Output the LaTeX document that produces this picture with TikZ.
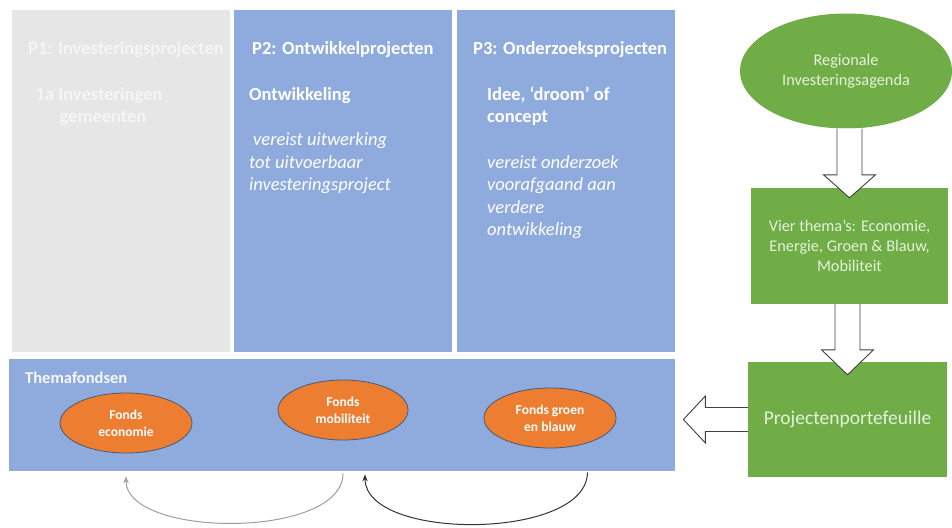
\documentclass[tikz,border=0pt]{standalone}
\usepackage{fontspec}
\setmainfont{Carlito}
\usetikzlibrary{shapes.geometric,calc,arrows.meta}
\definecolor{pblue}{HTML}{8FAADC}
\definecolor{pgray}{HTML}{E7E6E6}
\definecolor{pgreen}{HTML}{70AD47}
\definecolor{porange}{HTML}{ED7D31}
\definecolor{ptextgray}{HTML}{F5F5F5}
\definecolor{pgreentext}{HTML}{E4F1DB}
\definecolor{pedge}{HTML}{4A5A70}
\definecolor{parrow}{HTML}{404040}
\begin{document}
\begin{tikzpicture}[x=1pt,y=-1pt,
  colbox/.style={inner sep=0pt, anchor=north west, draw=none},
  ttl/.style={anchor=base west, inner sep=0pt, text=white, font=\fontsize{18.5}{22.5}\selectfont\bfseries},
  bodyb/.style={anchor=base west, inner sep=0pt, text=white, font=\fontsize{18.5}{22.5}\selectfont\bfseries},
  bodyi/.style={anchor=base west, inner sep=0pt, text=white, font=\fontsize{18.5}{22.5}\selectfont\itshape},
  greenbox/.style={fill=pgreen, draw=none, inner sep=0pt, text=pgreentext, align=center},
  fonds/.style={ellipse, fill=porange, draw=pedge, line width=0.8pt, inner sep=0pt, text=white, align=center, font=\fontsize{13.5}{17}\selectfont\bfseries},
  barrow/.style={fill=white, draw=parrow, line width=0.9pt, line join=miter},
  carrow/.style={line width=1pt, -{Stealth[length=7pt,width=5.5pt]}}
]
\useasboundingbox (0,0) rectangle (952,527);
\fill[white] (0,0) rectangle (952,527);

% columns
\node[colbox, fill=pgray, minimum width=218pt, minimum height=342pt] (p1) at (12,10) {};
\node[colbox, fill=pblue, minimum width=218pt, minimum height=342pt] (p2) at (234,10) {};
\node[colbox, fill=pblue, minimum width=218pt, minimum height=342pt] (p3) at (457,10) {};
\node[colbox, fill=pblue, minimum width=666pt, minimum height=112pt] (thema) at (9,359) {};

% P1 texts
\node[ttl, text=ptextgray] (p1t) at (28,54.5) {P1: Investeringsprojecten};
\node[anchor=base, inner sep=0pt, text=ptextgray, font=\fontsize{18.5}{22.5}\selectfont\bfseries] (p1a) at (99,100) {1a Investeringen};
\node[anchor=base, inner sep=0pt, text=ptextgray, font=\fontsize{18.5}{22.5}\selectfont\bfseries] (p1b) at (103,122.7) {gemeenten};

% P2 texts
\node[ttl] (p2t) at (252,54.5) {P2: Ontwikkelprojecten};
\node[bodyb] (p2a) at (249,100) {Ontwikkeling};
\node[bodyi] (p2b) at (253,145.7) {vereist uitwerking};
\node[bodyi] (p2c) at (249,168.2) {tot uitvoerbaar};
\node[bodyi] (p2d) at (249,190.7) {investeringsproject};

% P3 texts
\node[ttl] (p3t) at (473,54.5) {P3: Onderzoeksprojecten};
\node[bodyb] (p3a) at (487,100) {Idee, ‘droom’ of};
\node[bodyb] (p3b) at (487,122.7) {concept};
\node[bodyi] (p3c) at (487,168.2) {vereist onderzoek};
\node[bodyi] (p3d) at (487,190.7) {voorafgaand aan};
\node[bodyi] (p3e) at (487,213.2) {verdere};
\node[bodyi] (p3f) at (487,235.7) {ontwikkeling};

% Themafondsen
\node[anchor=base west, inner sep=0pt, text=white!92!pblue, font=\fontsize{16.5}{20}\selectfont\bfseries] (tft) at (25,383.5) {Themafondsen};
\node[fonds, minimum width=132pt, minimum height=60pt] (eco) at (126,423) {Fonds\\economie};
\node[fonds, minimum width=130pt, minimum height=60pt] (mob) at (343,410) {Fonds\\mobiliteit};
\node[fonds, minimum width=132pt, minimum height=60pt] (grn) at (550,418) {Fonds groen\\en blauw};

% right side
\node[greenbox, ellipse, minimum width=212pt, minimum height=115pt, font=\fontsize{16.3}{20}\selectfont] (reg) at (846,71) {Regionale\\Investeringsagenda};
\node[greenbox, minimum width=197pt, minimum height=116pt, font=\fontsize{16.3}{20}\selectfont] (vier) at (849.5,246) {Vier thema’s: Economie,\\Energie, Groen \& Blauw,\\Mobiliteit};
\node[greenbox, minimum width=199pt, minimum height=115pt, font=\fontsize{19.5}{23}\selectfont] (proj) at (847.5,419.5) {Projectenportefeuille};

% block arrows
\filldraw[barrow] let \p1=(reg.south), \p2=($(vier.north)+(0,10)$) in
  (\x2-12.5pt,\y1) -- (\x2-12.5pt,\y2+23pt) -- (\x2-26pt,\y2+23pt) -- (\x2,\y2)
  -- (\x2+26pt,\y2+23pt) -- (\x2+12.5pt,\y2+23pt) -- (\x2+12.5pt,\y1);
\filldraw[barrow] let \p1=(vier.south), \p2=($(proj.north)+(0,13)$) in
  (\x2-12.5pt,\y1) -- (\x2-12.5pt,\y2+25pt) -- (\x2-26pt,\y2+25pt) -- (\x2,\y2)
  -- (\x2+26pt,\y2+25pt) -- (\x2+12.5pt,\y2+25pt) -- (\x2+12.5pt,\y1);
\filldraw[barrow] let \p1=(proj.west), \p2=(thema.east) in
  (\x1,\y1+12pt) -- (\x2+30pt,\y1+12pt) -- (\x2+30pt,\y1+23.5pt) -- (\x2+8pt,\y1)
  -- (\x2+30pt,\y1-23.5pt) -- (\x2+30pt,\y1-12pt) -- (\x1,\y1-12pt);

% curved arrows
\coordinate (a1s) at ($(mob.south |- thema.south)+(0,2)$);
\coordinate (a1e) at ($(eco.south |- thema.south)+(0,5)$);
\coordinate (a2s) at ($(thema.south -| grn.east)+(-29,1)$);
\coordinate (a2e) at ($(mob.south |- thema.south)+(22,3)$);
\draw[carrow, draw=gray!75] (a1s) .. controls +(0,66) and +(0,62) .. (a1e);
\draw[carrow, draw=black!80] (a2s) .. controls +(0,68) and +(0,67) .. (a2e);
\end{tikzpicture}
\end{document}
